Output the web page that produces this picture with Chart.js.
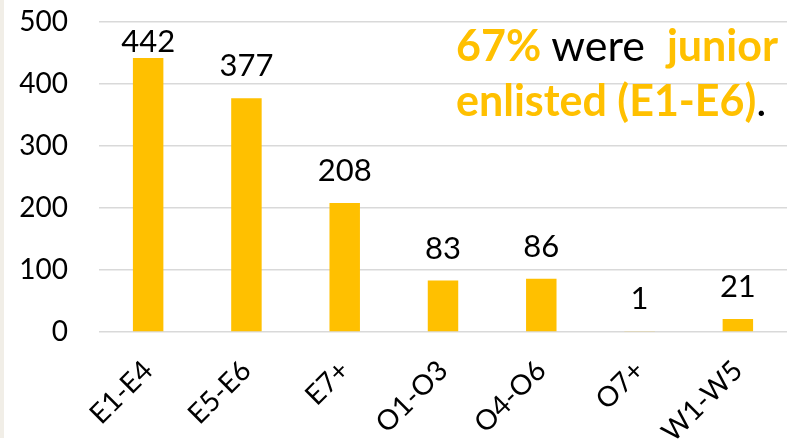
<!DOCTYPE html>
<html>
<head>
<meta charset="utf-8">
<script src="https://cdn.jsdelivr.net/npm/chart.js@4"></script>
<style>
  html, body { margin: 0; padding: 0; background: #fff; }
  #wrap { position: relative; width: 805px; height: 441px; }
  #edge { position: absolute; left: 0; top: 0; width: 4px; height: 438px; background: #F1EEE7; }
  #note {
    position: absolute; left: 456px; top: 17px;
    font-family: Lato, sans-serif; font-size: 43px; line-height: 55px;
    color: #000; white-space: nowrap;
  }
  #note .hi { color: #FFC000; font-weight: bold; }
</style>
</head>
<body>
<div id="wrap">
  <canvas id="chart" width="805" height="441"></canvas>
  <div id="edge"></div>
  <div id="note"><span class="hi">67%</span> were&nbsp; <span class="hi">junior</span><br><span class="hi">enlisted (E1-E6)</span>.</div>
</div>
<script>
var categories = ['E1-E4', 'E5-E6', 'E7+', 'O1-O3', 'O4-O6', 'O7+', 'W1-W5'];
var counts = [442, 377, 208, 83, 86, 1, 21];
var yTicks = [0, 100, 200, 300, 400, 500];

var gold = '#FFC000';
var font = "Lato, sans-serif";

// value labels above each bar (pushed down when they'd run off the top)
var valueLabels = {
  id: 'valueLabels',
  afterDatasetsDraw: function(chart) {
    var c = chart.ctx;
    var meta = chart.getDatasetMeta(0);
    var minBase = chart.chartArea.top + 30;
    c.save();
    c.font = '31px ' + font;
    c.fillStyle = '#000';
    c.textAlign = 'center';
    c.textBaseline = 'alphabetic';
    meta.data.forEach(function(bar, i) {
      c.fillText(counts[i], bar.x, Math.max(bar.y - 22, minBase));
    });
    c.restore();
  }
};

var ctx = document.getElementById('chart').getContext('2d');
var myChart = new Chart(ctx, {
  type: 'bar',
  data: {
    labels: categories,
    datasets: [{
      data: counts,
      backgroundColor: gold,
      borderWidth: 0,
      barPercentage: 0.62,
      categoryPercentage: 0.5
    }]
  },
  options: {
    responsive: false,
    animation: false,
    layout: { padding: { top: 22, right: 18, left: 0, bottom: 0 } },
    plugins: { legend: { display: false }, tooltip: { enabled: false } },
    scales: {
      y: {
        min: 0, max: 500,
        afterBuildTicks: function(scale) {
          scale.ticks = yTicks.map(function(v) { return { value: v }; });
        },
        afterFit: function(scale) {
          scale.width = 99;
          scale.paddingTop = 0;
          scale.paddingBottom = 0;
        },
        border: { display: false },
        grid: { color: '#D9D9D9', lineWidth: 1.5, drawTicks: false },
        ticks: { color: '#000', padding: 31, font: { family: font, size: 28 } }
      },
      x: {
        afterFit: function(scale) {
          scale.height = 109;
          scale.paddingLeft = 0;
          scale.paddingRight = 0;
        },
        border: { display: false },
        grid: { display: false, drawTicks: false },
        ticks: {
          color: '#000', padding: 22, minRotation: 45, maxRotation: 45,
          font: { family: font, size: 28 }
        }
      }
    }
  },
  plugins: [valueLabels]
});
</script>
</body>
</html>
